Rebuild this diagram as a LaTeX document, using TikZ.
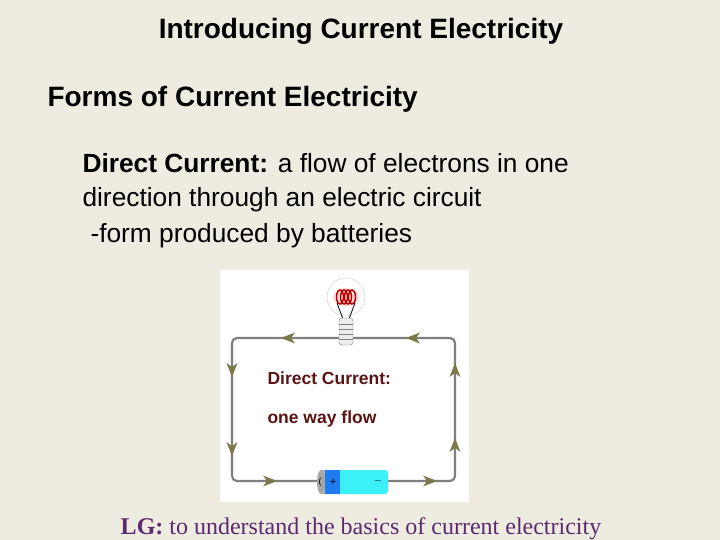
\documentclass[tikz,border=0pt]{standalone}
\usepackage{fontspec}
\setmainfont{Liberation Sans}
\newfontfamily\lgfont{Liberation Serif}
\usetikzlibrary{positioning}
\definecolor{slidebg}{HTML}{EEEBE0}
\definecolor{wiregray}{HTML}{7F7F7F}
\definecolor{flowtip}{HTML}{7A7A48}
\definecolor{dcred}{HTML}{5A1414}
\definecolor{lgpurple}{HTML}{5C2A6E}
\definecolor{cellcyan}{HTML}{3CF0F8}
\definecolor{cellblue}{HTML}{1E7CF0}
\tikzset{
  heading/.style={anchor=base west, font=\bfseries\fontsize{28}{32}\selectfont},
  body/.style={anchor=base west, font=\fontsize{26.3}{30}\selectfont},
  circtext/.style={anchor=base west, text=dcred, font=\bfseries\fontsize{17.5}{20}\selectfont},
  flow/.pic={\fill[flowtip] (-7,-5.5) -- (7,0) -- (-7,5.5) -- (-3,0) -- cycle;}
}
\begin{document}
\begin{tikzpicture}[x=1pt,y=-1pt]
\fill[slidebg] (0,0) rectangle (720,540);
\useasboundingbox (0,0) rectangle (720,540);
% slide texts
\node[anchor=base, font=\bfseries\fontsize{28}{32}\selectfont] (title) at (361,39) {Introducing Current Electricity};
\node[heading] (forms) at (44,107) {Forms of Current Electricity};
\node[body] (dc1) at (79,173) {\textbf{Direct Current:} a flow of electrons in one};
\node[body] (dc2) at (79,207) {direction through an electric circuit};
\node[body] (dc3) at (87,242) {-form produced by batteries};
% picture
\fill[white] (220,270) rectangle (469,502);
\draw[wiregray, line width=2.2pt, rounded corners=5pt] (232,338) rectangle (455,481);
% bulb
\filldraw[draw=gray!40, fill=white] (346,297) circle (19);
\fill[red!15] (346,297) ellipse (13 and 9);
\draw[red!70!black, line width=1.4pt] (340,297) ellipse (3.5 and 7) (344,297) ellipse (3.5 and 7) (348,297) ellipse (3.5 and 7) (352,297) ellipse (3.5 and 7);
\draw[black, thick] (337,303) -- (343,319) (355,303) -- (349,319);
\filldraw[draw=gray, fill=gray!15, rounded corners=3pt] (339,318) rectangle (353,345);
\foreach \yy in {324,329,334,339} \draw[gray] (339,\yy) -- (353,\yy);
% battery
\fill[cellcyan, rounded corners=3pt] (325,470) rectangle (388,494);
\fill[cellblue] (325,470) rectangle (340,494);
\fill[gray!60] (321,470) rectangle (325,494);
\fill[gray!70] (321,482) ellipse (4 and 12);
\node[font=\fontsize{11}{12}\selectfont] (plus) at (333,482) {+};
\node[font=\fontsize{11}{12}\selectfont] (minus) at (378,481) {$-$};
\node[font=\fontsize{9}{10}\selectfont] (cap) at (320,482) {(};
% flow arrows
\foreach \px/\py/\ang in {288/338/180, 413/338/180, 232/370/-90, 232/449/-90, 270/481/0, 430/481/0, 455/370/90, 455/445/90}
  \pic[rotate=\ang] at (\px,\py) {flow};
\node[circtext] (dclabel) at (264,384) {Direct Current:};
\node[circtext] (oneway) at (264,423) {one way flow};
% learning goal
\node[anchor=base, text=lgpurple, font=\lgfont\fontsize{24}{28}\selectfont] (lg) at (361,534) {\textbf{LG:} to understand the basics of current electricity};
\end{tikzpicture}
\end{document}
